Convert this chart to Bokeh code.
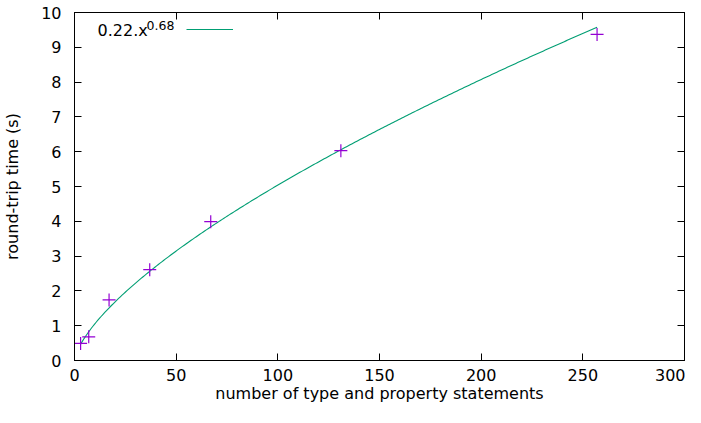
import numpy as np
from bokeh.plotting import figure
from bokeh.models import (Range1d, LinearAxis, SingleIntervalTicker, Label,
                          Legend, LegendItem)
from bokeh.embed import file_html
from bokeh.resources import INLINE

# ---- data ----
n_statements = [3, 7, 17, 37, 67, 131, 257]
rtt_seconds = [0.49, 0.68, 1.74, 2.61, 3.99, 6.03, 9.37]
fit_coef = 0.22
fit_exp = 0.68
x_label = "number of type and property statements"
y_label = "round-trip time (s)"
key_main = "0.22.x"
key_sup = "0.68"

FONT = "DejaVu Sans"
FS = "16px"

p = figure(width=685, height=407, output_backend="svg", toolbar_location=None,
           x_range=Range1d(0, 300), y_range=Range1d(0, 10),
           min_border_left=74, min_border_right=1, min_border_top=12,
           min_border_bottom=47)
p.xgrid.visible = False
p.ygrid.visible = False
p.outline_line_color = "black"
p.outline_line_width = 1
p.background_fill_color = "white"
p.border_fill_color = "white"

def style_axis(ax, interval, labels=True):
    ax.ticker = SingleIntervalTicker(interval=interval, num_minor_ticks=0)
    ax.major_tick_in = 7
    ax.major_tick_out = 0
    ax.minor_tick_in = 0
    ax.minor_tick_out = 0
    ax.axis_line_color = "black"
    ax.major_tick_line_color = "black"
    ax.major_label_text_font = FONT
    if labels:
        ax.major_label_text_color = "black"
        ax.major_label_text_font_size = FS
        ax.major_label_standoff = 10
    else:
        ax.major_label_text_color = None
        ax.major_label_text_font_size = "1px"
        ax.major_label_standoff = 0

style_axis(p.xaxis[0], 50)
style_axis(p.yaxis[0], 1)
p.xaxis[0].major_label_standoff = 8
p.yaxis[0].major_label_standoff = 13
p.xaxis[0].axis_label = x_label
p.yaxis[0].axis_label = y_label
for ax, st in ((p.xaxis[0], 0), (p.yaxis[0], 16)):
    ax.axis_label_text_font = FONT
    ax.axis_label_text_font_size = FS
    ax.axis_label_text_font_style = "normal"
    ax.axis_label_text_color = "black"
    ax.axis_label_standoff = st

top_ax = LinearAxis()
style_axis(top_ax, 50, labels=False)
p.add_layout(top_ax, "above")
right_ax = LinearAxis()
style_axis(right_ax, 1, labels=False)
p.add_layout(right_ax, "right")

# fitted curve
xs = np.linspace(n_statements[0], n_statements[-1], 300)
ys = fit_coef * xs ** fit_exp
curve = p.line(xs, ys, line_color="#009e73", line_width=1.1)

# measurements
p.scatter(n_statements, rtt_seconds, marker="cross", size=13,
          line_color="#9400d3", line_width=1.2)

# key
legend = Legend(items=[LegendItem(label=" ", renderers=[curve])],
                location=(112, 326), padding=0, margin=0, spacing=0,
                glyph_width=47, glyph_height=10, label_height=10,
                label_width=1, label_standoff=0,
                label_text_font_size="1px",
                background_fill_alpha=0, border_line_color=None)
p.add_layout(legend, "center")

p.add_layout(Label(x=23, y=330, x_units="screen", y_units="screen",
                   text=key_main, text_font=FONT, text_font_size=FS,
                   text_color="black", text_baseline="alphabetic",
                   text_align="left"))
p.add_layout(Label(x=72, y=335, x_units="screen", y_units="screen",
                   text=key_sup, text_font=FONT, text_font_size="12.5px",
                   text_color="black", text_baseline="alphabetic",
                   text_align="left"))

open("out.html", "w").write(file_html(p, INLINE))
